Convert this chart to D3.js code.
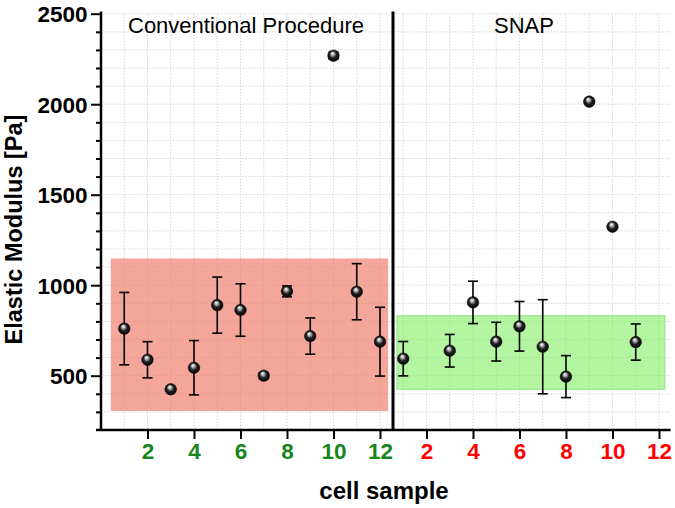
<!DOCTYPE html>
<html>
<head>
<meta charset="utf-8">
<script src="https://cdn.jsdelivr.net/npm/d3@7"></script>
<style>
  html, body { margin: 0; padding: 0; background: #fff; }
  svg { display: block; font-family: "Liberation Sans", Arial, sans-serif; }
</style>
</head>
<body>
<svg id="chart" width="675" height="508"></svg>
<script>
// ---- data ----
const convSamples = [1, 2, 3, 4, 5, 6, 7, 8, 9, 10, 11, 12];
const convMeans   = [760, 588, 425, 544, 890, 863, 500, 966, 719, 2268, 964, 688];
const convErrors  = [200, 100, 8, 150, 155, 145, 16, 30, 100, 20, 155, 190];

const snapSamples = [1, 3, 4, 5, 6, 7, 8, 9, 10, 11];
const snapMeans   = [594, 638, 905, 688, 773, 660, 495, 2014, 1323, 686];
const snapErrors  = [95, 90, 117, 107, 137, 260, 116, 6, 6, 100];

const xTickValues = [2, 4, 6, 8, 10, 12, 14, 16, 18, 20, 22, 24];
const xTickLabels = ["2", "4", "6", "8", "10", "12", "2", "4", "6", "8", "10", "12"];
const yMajorTicks = [500, 1000, 1500, 2000, 2500];
const yMinorTicks = d3.range(300, 2500, 100).filter(v => v % 500 !== 0);

const convRange = { x0: 0.42, x1: 12.35, y0: 305, y1: 1148 };
const snapRange = { x0: 12.73, x1: 24.25, y0: 425, y1: 831 };
const dividerAt = 12.56;

// ---- scales ----
const svg = d3.select("#chart");
const x = d3.scaleLinear().domain([0, 24.5]).range([101, 670.6]);
const y = d3.scaleLinear().domain([200, 2500]).range([430, 13.7]);

// gradient for spheres
const defs = svg.append("defs");
const grad = defs.append("radialGradient").attr("id", "ball")
  .attr("cx", "50%").attr("cy", "50%").attr("r", "55%")
  .attr("fx", "40%").attr("fy", "28%");
grad.append("stop").attr("offset", "0%").attr("stop-color", "#ffffff");
grad.append("stop").attr("offset", "22%").attr("stop-color", "#bdbdbd");
grad.append("stop").attr("offset", "55%").attr("stop-color", "#202020");
grad.append("stop").attr("offset", "100%").attr("stop-color", "#000000");

// ---- grid ----
const grid = svg.append("g").attr("stroke", "#d6d6d6").attr("stroke-width", 1)
  .attr("stroke-dasharray", "1.5,1.5").attr("fill", "none");
grid.selectAll("line.h").data(d3.range(300, 2501, 100)).join("line")
  .attr("class", "h")
  .attr("x1", x(0)).attr("x2", x(24.5))
  .attr("y1", d => y(d)).attr("y2", d => y(d));
grid.selectAll("line.v").data(d3.range(1, 25)).join("line")
  .attr("class", "v")
  .attr("x1", d => x(d)).attr("x2", d => x(d))
  .attr("y1", y(2500)).attr("y2", y(200));

// ---- range boxes ----
svg.append("rect")
  .attr("x", x(convRange.x0)).attr("width", x(convRange.x1) - x(convRange.x0))
  .attr("y", y(convRange.y1)).attr("height", y(convRange.y0) - y(convRange.y1))
  .attr("fill", "#f08070").attr("fill-opacity", 0.7);
svg.append("rect")
  .attr("x", x(snapRange.x0)).attr("width", x(snapRange.x1) - x(snapRange.x0))
  .attr("y", y(snapRange.y1)).attr("height", y(snapRange.y0) - y(snapRange.y1))
  .attr("fill", "#80ee60").attr("fill-opacity", 0.6)
  .attr("stroke", "#90e080").attr("stroke-width", 1);

// ---- divider ----
svg.append("line")
  .attr("x1", x(dividerAt)).attr("x2", x(dividerAt))
  .attr("y1", 11.5).attr("y2", y(200))
  .attr("stroke", "#000").attr("stroke-width", 3);

// ---- axes ----
const yAxis = svg.append("g").attr("transform", `translate(${x(0)},0)`);
yAxis.call(d3.axisLeft(y).tickValues(yMajorTicks).tickSize(10).tickFormat(d3.format("d")));
yAxis.select(".domain").remove();
yAxis.selectAll(".tick line").attr("stroke-width", 2);
yAxis.selectAll(".tick text").attr("font-size", 22.5).attr("font-weight", "bold")
  .attr("fill", "#000").attr("x", -13.5).attr("dy", "0.36em")
  .attr("font-family", "Liberation Sans, Arial, sans-serif");
const yMinor = svg.append("g").attr("transform", `translate(${x(0)},0)`);
yMinor.call(d3.axisLeft(y).tickValues(yMinorTicks).tickSize(5).tickFormat(""));
yMinor.select(".domain").remove();
yMinor.selectAll(".tick line").attr("stroke-width", 2);
svg.append("line").attr("x1", x(0)).attr("x2", x(0)).attr("y1", 11.5).attr("y2", 431)
  .attr("stroke", "#000").attr("stroke-width", 2.5);

const xAxis = svg.append("g").attr("transform", `translate(0,${y(200)})`);
xAxis.call(d3.axisBottom(x).tickValues(xTickValues).tickSize(9)
  .tickFormat((d, i) => xTickLabels[i]));
xAxis.select(".domain").remove();
xAxis.selectAll(".tick line").attr("stroke-width", 2);
xAxis.selectAll(".tick text").attr("font-size", 22.5).attr("font-weight", "bold")
  .attr("font-family", "Liberation Sans, Arial, sans-serif")
  .attr("y", 13)
  .attr("fill", d => d <= 12 ? "#16861a" : "#ff0000");
svg.append("line").attr("x1", 96).attr("x2", 670.6).attr("y1", y(200)).attr("y2", y(200))
  .attr("stroke", "#000").attr("stroke-width", 2.5);

// ---- points ----
function drawSeries(samples, means, errs, offset) {
  const g = svg.append("g");
  const data = samples.map((s, i) => ({ xi: s + offset, m: means[i], e: errs[i] }));
  const eb = g.selectAll("g.eb").data(data).join("g").attr("class", "eb")
    .attr("stroke", "#000").attr("stroke-width", 1.6);
  eb.append("line").attr("x1", d => x(d.xi)).attr("x2", d => x(d.xi))
    .attr("y1", d => y(d.m + d.e)).attr("y2", d => y(d.m - d.e));
  eb.append("line").attr("x1", d => x(d.xi) - 5).attr("x2", d => x(d.xi) + 5)
    .attr("y1", d => y(d.m + d.e)).attr("y2", d => y(d.m + d.e));
  eb.append("line").attr("x1", d => x(d.xi) - 5).attr("x2", d => x(d.xi) + 5)
    .attr("y1", d => y(d.m - d.e)).attr("y2", d => y(d.m - d.e));
  g.selectAll("circle").data(data).join("circle")
    .attr("cx", d => x(d.xi)).attr("cy", d => y(d.m)).attr("r", 5.8)
    .attr("fill", "url(#ball)").attr("stroke", "#000").attr("stroke-width", 0.5);
}
drawSeries(convSamples, convMeans, convErrors, 0);
drawSeries(snapSamples, snapMeans, snapErrors, 12);

// ---- texts ----
svg.append("text").attr("x", 128).attr("y", 32.5)
  .attr("font-size", 22).attr("fill", "#000").text("Conventional Procedure");
svg.append("text").attr("x", 524).attr("y", 32.5).attr("text-anchor", "middle")
  .attr("font-size", 22).attr("fill", "#000").text("SNAP");

svg.append("text").attr("transform", "translate(22,229.5) rotate(-90)")
  .attr("text-anchor", "middle").attr("font-size", 23.5).attr("font-weight", "bold")
  .text("Elastic Modulus [Pa]");
svg.append("text").attr("x", 384).attr("y", 498.5).attr("text-anchor", "middle")
  .attr("font-size", 24).attr("font-weight", "bold").text("cell sample");
</script>
</body>
</html>
